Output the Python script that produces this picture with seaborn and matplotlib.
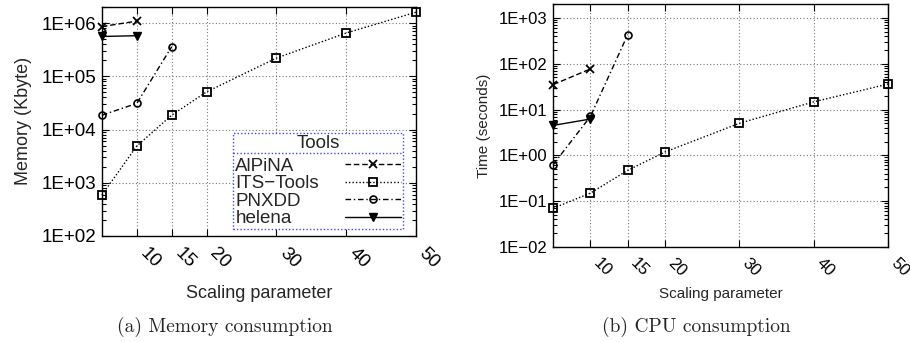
import numpy as np
import pandas as pd
import matplotlib
matplotlib.use("Agg")
import matplotlib.pyplot as plt
from matplotlib.ticker import FixedLocator, FuncFormatter, LogLocator, NullFormatter, NullLocator
from matplotlib.lines import Line2D
import seaborn as sns

# Data
tools = ["AlPiNA", "ITS\u2212Tools", "PNXDD", "helena"]

scale_alpina = [5, 10]
scale_its = [5, 10, 15, 20, 30, 40, 50]
scale_pnxdd = [5, 10, 15]
scale_helena = [5, 10]

mem_alpina = [8.6e5, 1.09e6]
mem_its = [590, 4.9e3, 1.86e4, 5.1e4, 2.2e5, 6.5e5, 1.6e6]
mem_pnxdd = [1.86e4, 3.1e4, 3.6e5]
mem_helena = [5.6e5, 5.8e5]

cpu_alpina = [35, 77]
cpu_its = [0.07, 0.15, 0.47, 1.18, 5.0, 14.7, 36]
cpu_pnxdd = [0.63, 7.1, 430]
cpu_helena = [4.5, 6.2]

xticks = [10, 15, 20, 30, 40, 50]

styles = {
    "AlPiNA": dict(linestyle=(0, (4, 2)), marker="x", markersize=5.5, markeredgewidth=1.3),
    "ITS\u2212Tools": dict(linestyle=(0, (1, 1.5)), marker="s", markersize=5.2, markerfacecolor="none", markeredgewidth=1.3),
    "PNXDD": dict(linestyle=(0, (4, 2, 1, 2)), marker="o", markersize=5, markerfacecolor="none", markeredgewidth=1.2),
    "helena": dict(linestyle="-", marker="v", markersize=5.5, markerfacecolor="black", markeredgewidth=1.0),
}


def build_df(values):
    scales = [scale_alpina, scale_its, scale_pnxdd, scale_helena]
    rows = []
    for tool, xs, ys in zip(tools, scales, values):
        for x, y in zip(xs, ys):
            rows.append({"tool": tool, "scale": x, "value": y})
    return pd.DataFrame(rows)


def exp_fmt(v, pos):
    e = int(round(np.log10(v)))
    sign = "+" if e >= 0 else "\u2212"
    return f"1E{sign}{abs(e):02d}"


sns.set_style("ticks")
plt.rcParams["font.family"] = ["Liberation Sans", "DejaVu Sans"]
plt.rcParams["xtick.direction"] = "in"
plt.rcParams["ytick.direction"] = "in"

fig = plt.figure(figsize=(9.1, 3.42), dpi=100)
ax_mem = fig.add_axes([0.112, 0.31, 0.345, 0.67])
ax_cpu = fig.add_axes([0.608, 0.278, 0.368, 0.71])

df_mem = build_df([mem_alpina, mem_its, mem_pnxdd, mem_helena])
df_cpu = build_df([cpu_alpina, cpu_its, cpu_pnxdd, cpu_helena])


def draw_panel(ax, df, ylim, ylabel, fs, xfs, lpad, ypad):
    for tool in tools:
        sub = df[df["tool"] == tool]
        sns.lineplot(data=sub, x="scale", y="value", ax=ax, color="black",
                     linewidth=1.0, label=tool, estimator=None, markeredgecolor="black",
                     clip_on=False, zorder=5, **styles[tool])
    ax.set_yscale("log")
    ax.set_xlim(5, 50)
    ax.set_ylim(*ylim)
    ax.xaxis.set_major_locator(FixedLocator(xticks))
    ax.xaxis.set_minor_locator(NullLocator())
    ax.yaxis.set_major_locator(LogLocator(base=10, numticks=20))
    ax.yaxis.set_minor_locator(LogLocator(base=10, subs=np.arange(2, 10), numticks=20))
    ax.yaxis.set_minor_formatter(NullFormatter())
    ax.yaxis.set_major_formatter(FuncFormatter(exp_fmt))
    ax.tick_params(which="both", top=True, right=True, direction="in", width=0.8, colors="black")
    ax.tick_params(which="major", length=5)
    ax.tick_params(which="minor", length=3)
    ax.tick_params(axis="y", labelsize=fs, pad=4)
    ax.tick_params(axis="x", labelsize=fs, pad=6)
    for lab in ax.get_xticklabels():
        lab.set_rotation(-45)
        lab.set_ha("left")
        lab.set_va("top")
    ax.grid(True, which="major", linestyle=(0, (1, 2)), color="#777777", linewidth=0.8)
    for sp in ax.spines.values():
        sp.set_color("black")
        sp.set_linewidth(1.0)
    ax.set_xlabel("Scaling parameter", fontsize=xfs, labelpad=lpad)
    ax.set_ylabel(ylabel, fontsize=xfs, labelpad=ypad)


draw_panel(ax_mem, df_mem, (1e2, 2.02e6), "Memory (Kbyte)", 13.5, 13, 10, 7)
draw_panel(ax_cpu, df_cpu, (1e-2, 2e3), "Time (seconds)", 12, 11, 6, 6)
ax_cpu.get_legend().remove()

leg = ax_mem.legend(title="Tools", loc="lower right", bbox_to_anchor=(0.96, 0.03),
                    markerfirst=False, fontsize=13.5, title_fontsize=13.5,
                    handlelength=3.0, handletextpad=1.4, labelspacing=0.02,
                    borderpad=0.1, borderaxespad=0, fancybox=False, framealpha=1,
                    edgecolor="#4444ff")
leg.get_frame().set_linestyle((0, (1, 1.5)))
leg.get_frame().set_linewidth(1.0)
leg.set_zorder(20)
leg._legend_box.sep = 4

# Left-align labels while keeping the line samples in one column
fig.canvas.draw()
r = fig.canvas.get_renderer()
widths = [t.get_window_extent(r).width for t in leg.get_texts()]
rows = [row for col in leg._legend_handle_box.get_children() for row in col.get_children()]
for row, w in zip(rows, widths):
    row.sep += (max(widths) - w) * 72 / fig.dpi

# Separator below legend title
fig.canvas.draw()
fb = leg.get_frame().get_window_extent(r)
tb = leg.get_title().get_window_extent(r)
inv = fig.transFigure.inverted()
(x0, y0) = inv.transform((fb.x0, tb.y0 - 1))
(x1, _) = inv.transform((fb.x1, tb.y0 - 1))
fig.add_artist(Line2D([x0, x1], [y0, y0], transform=fig.transFigure, color="#4444ff",
                      linestyle=(0, (1, 1.5)), linewidth=1.0, zorder=30))

fig.text(0.247, 0.045, "(a) Memory consumption", family="cmr10", fontsize=14, ha="center", va="center")
fig.text(0.765, 0.045, "(b) CPU consumption", family="cmr10", fontsize=14, ha="center", va="center")

fig.savefig("out.png", dpi=100)
